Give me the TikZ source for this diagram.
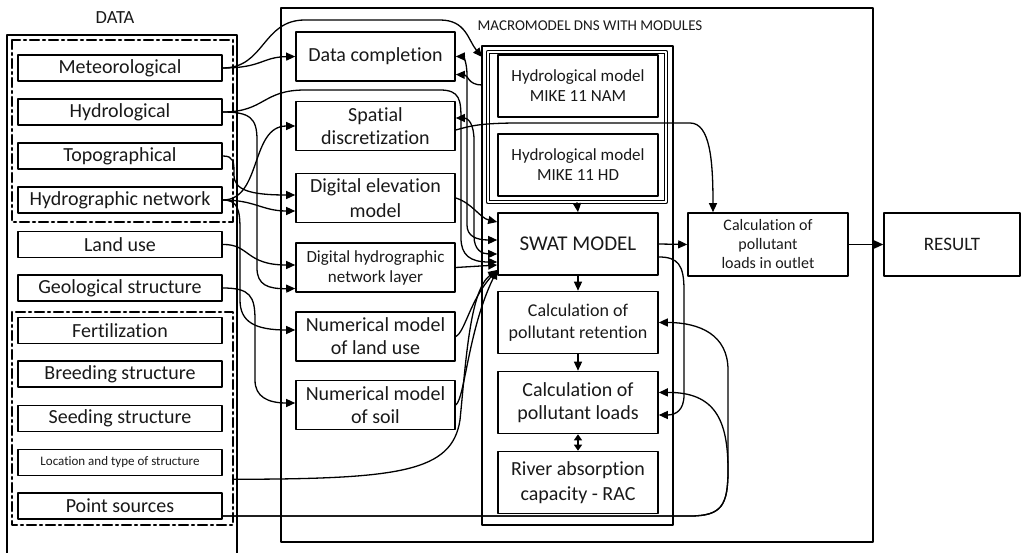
\documentclass[tikz,border=0pt]{standalone}
\usepackage{fontspec}
\setmainfont{Carlito}[Ligatures=NoCommon]
\usepackage{tikz}
\usetikzlibrary{arrows.meta,calc}

\begin{document}
\begin{tikzpicture}[
	x=1pt,y=-1pt,
	>={Triangle[length=9pt,width=8pt]},
	line cap=round,line join=round,
	frame/.style={draw, line width=1.6pt},
	grpline/.style={line width=2.5pt, dash pattern=on 9pt off 4pt on 2pt off 4pt},
	databox/.style={draw, line width=1.6pt, minimum width=204pt, minimum height=26pt, inner sep=0pt, text=black!90, font=\fontsize{20}{24}\selectfont},
	prepbox/.style={draw, line width=1.6pt, minimum width=159pt, minimum height=49pt, inner sep=0pt, align=center, text=black!90, font=\fontsize{20}{23}\selectfont},
	modbox/.style={draw, line width=1.6pt, minimum width=160pt, minimum height=62pt, inner sep=0pt, align=center, text=black!90, font=\fontsize{20}{23}\selectfont},
	link/.style={->, line width=1.3pt}
	]
	%----- parameters
	\def\dataX{120}
	\def\prepX{375.5}
	\def\modX{578}
	
	\useasboundingbox (0,0) rectangle (1021,553);
	
	%----- frames
	\draw[frame] (7,553) -- (7,35) -- (237,35) -- (237,553);
	\draw[grpline] (12,40) rectangle (233,222);
	\draw[grpline] (12,312) rectangle (233,525);
	\draw[frame] (281,8) rectangle (873,542);
	\draw[frame] (482,46) rectangle (673,525);
	\node[draw, double, double distance=1.6pt, line width=1.3pt, minimum width=178pt, minimum height=150pt] (hgrp) at (577,127) {};
	
	\node[text=black!90, font=\fontsize{18.5}{22}\selectfont] (dataLbl) at (115,18) {DATA};
	\node[text=black!90, font=\fontsize{15}{18}\selectfont] (macroLbl) at (590,26) {MACROMODEL DNS WITH MODULES};
	
	%----- data boxes
	\node[databox] (met) at (\dataX,68) {Meteorological};
	\node[databox] (hyd) at (\dataX,112) {Hydrological};
	\node[databox] (topo) at (\dataX,156) {Topographical};
	\node[databox] (hnet) at (\dataX,200) {Hydrographic network};
	\node[databox] (luse) at (\dataX,244.5) {Land use};
	\node[databox] (geo) at (\dataX,288) {Geological structure};
	\node[databox] (fert) at (\dataX,330.5) {Fertilization};
	\node[databox] (breed) at (\dataX,374) {Breeding structure};
	\node[databox] (seed) at (\dataX,418.5) {Seeding structure};
	\node[databox, font=\fontsize{13}{16}\selectfont] (loc) at (\dataX,462.5) {Location and type of structure};
	\node[databox] (psrc) at (\dataX,506) {Point sources};
	
	%----- preparation boxes
	\node[prepbox] (dcomp) at (\prepX,56.5) {Data completion};
	\node[prepbox] (sdisc) at (\prepX,126) {Spatial\\discretization};
	\node[prepbox, font=\fontsize{20}{25}\selectfont] (dem) at (\prepX,198) {Digital elevation\\model};
	\node[prepbox, font=\fontsize{17}{20}\selectfont] (dhn) at (\prepX,267.5) {Digital hydrographic\\network layer};
	\node[prepbox] (nlu) at (\prepX,336.5) {Numerical model\\of land use};
	\node[prepbox] (nsoil) at (\prepX,405) {Numerical model\\of soil};
	
	%----- modules
	\node[modbox, font=\fontsize{17}{20}\selectfont] (nam) at (\modX,86) {Hydrological model\\MIKE 11 NAM};
	\node[modbox, font=\fontsize{17}{20}\selectfont] (hd) at (\modX,165) {Hydrological model\\MIKE 11 HD};
	\node[modbox, font=\fontsize{21}{24}\selectfont] (swat) at (\modX,244) {SWAT MODEL};
	\node[modbox, font=\fontsize{18}{22}\selectfont] (ret) at (\modX,322.5) {Calculation of\\pollutant retention};
	\node[modbox] (loads) at (\modX,402.5) {Calculation of\\pollutant loads};
	\node[modbox, font=\fontsize{20}{25}\selectfont] (rac) at (\modX,482.5) {River absorption\\capacity - RAC};
	
	\node[modbox, minimum height=63pt, font=\fontsize{16}{19}\selectfont] (outlet) at (768,244.5) {Calculation of\\pollutant\\loads in outlet};
	\node[modbox, minimum width=136pt, minimum height=63pt, font=\fontsize{19}{22}\selectfont] (result) at (952,244.5) {RESULT};
	
	\coordinate (namIn) at (482,57);
	\coordinate (namOut) at (482,85);
	
	%----- data -> preparation
	\draw[link] (met.east) .. controls (262,68) and (262,57) .. (dcomp.west);
	\draw[link] (met.east) .. controls (265,68) and (262,20) .. (305,20) -- (440,20) .. controls (466,20) and (468,40) .. (namIn);
	\draw[link] (hyd.east) .. controls (265,112) and (262,90) .. (305,90) -- (440,90) .. controls (460,90) and (461,100) .. (461,120) -- (461,238) .. controls (461,255) and (470,262) .. ([yshift=-18pt]swat.west);
	\draw[link] (hyd.east) .. controls (250,112) and (257,118) .. (257,140) -- (257,268) .. controls (257,285) and (268,289) .. ([yshift=-21pt]dhn.west);
	\draw[link] (hnet.east) .. controls (262,200) and (250,126) .. (sdisc.west);
	\draw[link] (topo.east) .. controls (234,156) and (234,162) .. (234,175) .. controls (234,190) and (250,195) .. ([yshift=3pt]dem.west);
	\draw[link] (hnet.east) .. controls (255,200) and (262,211) .. ([yshift=-13pt]dem.west);
	\draw[link] (luse.east) .. controls (250,244) and (245,265) .. ([yshift=2.5pt]dhn.west);
	\draw[link] (hnet.east) .. controls (238,200) and (240,210) .. (240,230) -- (240,300) .. controls (240,322) and (255,330) .. ([yshift=6.5pt]nlu.west);
	\draw[link] (geo.east) .. controls (250,288) and (255,296) .. (255,320) -- (255,380) .. controls (255,397) and (268,403) .. ([yshift=2pt]nsoil.west);
	
	%----- into SWAT
	\draw[link] ([shift={(11pt,-3pt)}]loc.south east) .. controls (400,479) and (452,472) .. (460,420) .. controls (466,360) and (470,290) .. ([yshift=-26pt]swat.west);
	\draw[link] (nlu.east) .. controls (465,332) and (470,300) .. ([yshift=-26pt]swat.west);
	\draw[link] (nsoil.east) .. controls (465,398) and (468,330) .. ([yshift=-26pt]swat.west);
	\draw[link] (dem.east) .. controls (472,203) and (480,218) .. ([yshift=22pt]swat.west);
	\draw[link] (dhn.east) -- ([yshift=-21pt]swat.west);
	\draw[link,<->] (dcomp.east) .. controls (463,56.5) and (467,62) .. (467,75) -- (467,225) .. controls (467,236) and (476,240) .. ([yshift=4pt]swat.west);
	\draw[link,<->] ([yshift=8pt]sdisc.east) .. controls (468,118) and (474,124) .. (474,140) -- (474,236) .. controls (474,250) and (482,254) .. ([yshift=-10pt]swat.west);
	\draw[link] (namOut) .. controls (468,85) and (468,75) .. ([yshift=-18pt]dcomp.east);
	
	%----- outputs
	\draw[link] ([yshift=-4pt]sdisc.east) .. controls (470,126) and (480,123) .. (520,123) -- (690,123) .. controls (710,123) and (713,160) .. ([xshift=-55pt]outlet.north);
	\draw[link] ([yshift=-13pt]swat.east) .. controls (678,257) and (684,265) .. (684,290) -- (684,395) .. controls (684,410) and (676,415) .. ([yshift=-12.5pt]loads.east);
	\draw[link] ([yshift=-10pt]psrc.east) -- (690,516) .. controls (722,516) and (728,505) .. (728,470) -- (728,370) .. controls (728,335) and (700,322.5) .. (ret.east);
	\draw[link] ([yshift=-10pt]psrc.east) -- (690,516) .. controls (722,516) and (728,505) .. (728,470) .. controls (728,420) and (715,392) .. ([yshift=10pt]loads.east);
	
	%----- module chain
	\draw[link] (hgrp.south) -- (swat.north);
	\draw[link] (swat.south) -- (ret.north);
	\draw[link] (ret.south) -- (loads.north);
	\draw[line width=1.3pt, {Triangle[length=6pt,width=8pt]}-{Triangle[length=6pt,width=8pt]}] (loads.south) -- (rac.north);
	\draw[link] (swat.east) -- (outlet.west);
	\draw[link] (outlet.east) -- (result.west);
	
\end{tikzpicture}
\end{document}
